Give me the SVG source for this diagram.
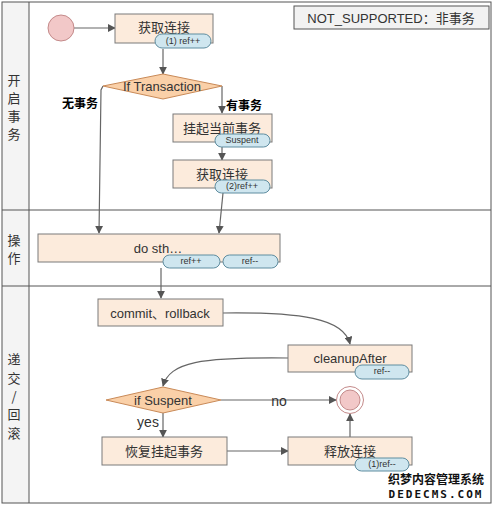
<svg xmlns="http://www.w3.org/2000/svg" width="494" height="506" viewBox="0 0 494 506">
<style>
.box{fill:#fcebdc;stroke:#7a7a7a;stroke-width:1}
.pill{fill:#cfe6ef;stroke:#5f8da0;stroke-width:1}
.dia{fill:#fad0a8;stroke:#c98a58;stroke-width:1}
.t{font-family:"Liberation Sans","Noto Sans CJK SC",sans-serif;font-size:13px;fill:#333;text-anchor:middle;dominant-baseline:central}
.pt{font-family:"Liberation Sans",sans-serif;font-size:9px;fill:#333;text-anchor:middle;dominant-baseline:central}
.lane{font-family:"Noto Sans CJK SC",sans-serif;font-size:13px;fill:#333;text-anchor:middle;dominant-baseline:central}
.b{font-family:"Noto Sans CJK SC",serif;font-size:12px;font-weight:bold;fill:#000;dominant-baseline:central}
.c{fill:none;stroke:#666;stroke-width:1.2}
</style>
<defs>
<marker id="ar" viewBox="0 0 10 10" refX="9" refY="5" markerWidth="8" markerHeight="8" orient="auto" markerUnits="userSpaceOnUse">
<path d="M0,0 L10,5 L0,10 z" fill="#555"/>
</marker>
</defs>
<rect x="0" y="0" width="494" height="506" fill="#fff"/>
<g id="frame">
<rect x="2" y="2" width="27" height="501" fill="#f4f4f4"/>
<rect x="2" y="2" width="489" height="501" fill="none" stroke="#555" stroke-width="1"/>
<line x1="29" y1="2" x2="29" y2="503" stroke="#555"/>
<line x1="2" y1="210" x2="491" y2="210" stroke="#555"/>
<line x1="2" y1="286" x2="491" y2="286" stroke="#555"/>
<text class="lane" x="14" y="79">开</text>
<text class="lane" x="14" y="97">启</text>
<text class="lane" x="14" y="115">事</text>
<text class="lane" x="14" y="133">务</text>
<text class="lane" x="14" y="239">操</text>
<text class="lane" x="14" y="257">作</text>
<text class="lane" x="14" y="358">递</text>
<text class="lane" x="14" y="377">交</text>
<text class="lane" x="14" y="395">/</text>
<text class="lane" x="14" y="413">回</text>
<text class="lane" x="14" y="432">滚</text>
</g>
<g id="connectors">
<line class="c" x1="74" y1="28" x2="115" y2="28" marker-end="url(#ar)"/>
<line class="c" x1="163" y1="49" x2="163" y2="74" marker-end="url(#ar)"/>
<polyline class="c" points="103,86 101,90 99,233" marker-end="url(#ar)"/>
<polyline class="c" points="222,86 222,113" marker-end="url(#ar)"/>
<line class="c" x1="222" y1="147" x2="222" y2="160" marker-end="url(#ar)"/>
<line class="c" x1="223" y1="193" x2="219" y2="233" marker-end="url(#ar)"/>
<line class="c" x1="161" y1="268" x2="161" y2="298" marker-end="url(#ar)"/>
<path class="c" d="M223,313 C300,312 344,318 350,344" marker-end="url(#ar)"/>
<path class="c" d="M288,358 C200,357 170,362 163,386" marker-end="url(#ar)"/>
<line class="c" x1="221" y1="400" x2="336" y2="400" marker-end="url(#ar)"/>
<line class="c" x1="163" y1="413" x2="163" y2="437" marker-end="url(#ar)"/>
<line class="c" x1="227" y1="451" x2="288" y2="451" marker-end="url(#ar)"/>
<line class="c" x1="350" y1="437" x2="350" y2="414" marker-end="url(#ar)"/>
<text class="b" x="62" y="102">无事务</text>
<text class="b" x="226" y="104">有事务</text>
<text class="t" x="279" y="401" style="font-size:14px">no</text>
<text class="t" x="148" y="422" style="font-size:14px">yes</text>
</g>
<g id="start"><circle cx="61" cy="28" r="13" fill="#f2c8c8" stroke="#c48a8a"/></g>
<g id="get1">
<rect class="box" x="115" y="14" width="98" height="29"/>
<text class="t" x="164" y="27">获取连接</text>
<rect class="pill" x="155" y="34" width="56" height="14" rx="7"/>
<text class="pt" x="183" y="41">(1) ref++</text>
</g>
<g id="iftx">
<polygon class="dia" points="163,74 222,86 163,99 103,86"/>
<text class="t" x="162" y="86">If Transaction</text>
</g>
<g id="suspend">
<rect class="box" x="173" y="114" width="99" height="28"/>
<text class="t" x="222" y="128">挂起当前事务</text>
<rect class="pill" x="215" y="134" width="55" height="13" rx="6.5"/>
<text class="pt" x="242" y="140">Suspent</text>
</g>
<g id="get2">
<rect class="box" x="173" y="160" width="99" height="28"/>
<text class="t" x="222" y="174">获取连接</text>
<rect class="pill" x="215" y="180" width="55" height="13" rx="6.5"/>
<text class="pt" x="242" y="186">(2)ref++</text>
</g>
<g id="dosth">
<rect class="box" x="38" y="234" width="242" height="28"/>
<text class="t" x="158" y="248">do sth…</text>
<rect class="pill" x="163" y="255" width="57" height="13" rx="6.5"/>
<text class="pt" x="191" y="261">ref++</text>
<rect class="pill" x="223" y="255" width="55" height="13" rx="6.5"/>
<text class="pt" x="250" y="261">ref--</text>
</g>
<g id="commit">
<rect class="box" x="98" y="299" width="125" height="27"/>
<text class="t" x="160" y="313">commit、rollback</text>
</g>
<g id="cleanup">
<rect class="box" x="288" y="345" width="124" height="27"/>
<text class="t" x="350" y="358">cleanupAfter</text>
<rect class="pill" x="355" y="365" width="54" height="14" rx="7"/>
<text class="pt" x="382" y="371">ref--</text>
</g>
<g id="ifsus">
<polygon class="dia" points="163,387 221,400 163,413 106,400"/>
<text class="t" x="163" y="400">if Suspent</text>
</g>
<g id="end">
<circle cx="350" cy="400" r="13.5" fill="#fff" stroke="#c48a8a"/>
<circle cx="350" cy="400" r="10" fill="#f2c8c8" stroke="#c48a8a"/>
</g>
<g id="resume">
<rect class="box" x="102" y="437" width="125" height="28"/>
<text class="t" x="164" y="451">恢复挂起事务</text>
</g>
<g id="release">
<rect class="box" x="288" y="437" width="124" height="28"/>
<text class="t" x="350" y="451">释放连接</text>
<rect class="pill" x="355" y="458" width="54" height="13" rx="6.5"/>
<text class="pt" x="382" y="464">(1)ref--</text>
</g>
<g id="note">
<rect x="294" y="6" width="195" height="23" fill="#f2f2f2" stroke="#555"/>
<text class="t" x="391" y="18">NOT_SUPPORTED：非事务</text>
</g>
<g id="watermark">
<text x="436" y="478" style="font-family:'Noto Sans CJK SC',sans-serif;font-size:12px;font-weight:bold;fill:#111;text-anchor:middle;dominant-baseline:central">织梦内容管理系统</text>
<text x="436" y="494" style="font-family:'DejaVu Sans Mono',monospace;font-size:11px;font-weight:bold;fill:#111;letter-spacing:2px;text-anchor:middle;dominant-baseline:central">DEDECMS.COM</text>
</g>
</svg>
